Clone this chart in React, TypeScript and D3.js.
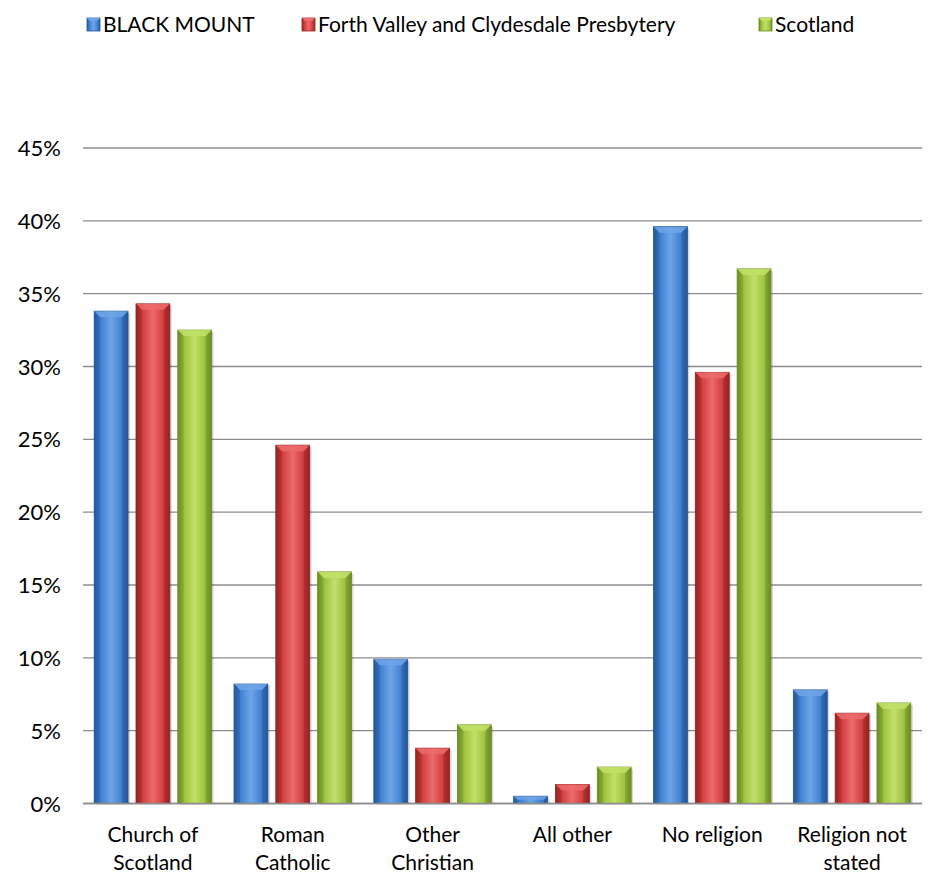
import { useEffect, useRef } from 'react'
import * as d3 from 'd3'

const categories = [
  ['Church of', 'Scotland'],
  ['Roman', 'Catholic'],
  ['Other', 'Christian'],
  ['All other'],
  ['No religion'],
  ['Religion not', 'stated'],
]
const seriesNames = ['BLACK MOUNT', 'Forth Valley and Clydesdale Presbytery', 'Scotland']
const blackMount = [33.8, 8.2, 9.9, 0.5, 39.6, 7.8]
const forthValley = [34.3, 24.6, 3.8, 1.3, 29.6, 6.2]
const scotland = [32.5, 15.9, 5.4, 2.5, 36.7, 6.9]
const yTicks = [0, 5, 10, 15, 20, 25, 30, 35, 40, 45]

const colors = [
  { base: '#3f7fd0', light: '#6ea5e8', dark: '#25569a' },
  { base: '#d13c3c', light: '#ec6b6b', dark: '#952424' },
  { base: '#9bc13e', light: '#c2e067', dark: '#6c8c25' },
]

export default function App() {
  const svgRef = useRef<SVGSVGElement>(null)

  useEffect(() => {
    if (!svgRef.current) return
    const svg = d3.select(svgRef.current)
    svg.selectAll('*').remove()

    const font = 'Lato, "Open Sans", sans-serif'
    const left = 83
    const right = 922
    const top = 148
    const bottom = 803.5

    const defs = svg.append('defs')
    colors.forEach((c, i) => {
      const g = defs.append('linearGradient').attr('id', `grad${i}`).attr('x1', 0).attr('x2', 1)
      g.append('stop').attr('offset', '0%').attr('stop-color', c.dark)
      g.append('stop').attr('offset', '18%').attr('stop-color', c.base)
      g.append('stop').attr('offset', '50%').attr('stop-color', c.light)
      g.append('stop').attr('offset', '82%').attr('stop-color', c.base)
      g.append('stop').attr('offset', '100%').attr('stop-color', c.dark)
    })

    const y = d3.scaleLinear().domain([0, 45]).range([bottom, top])
    const x0 = d3.scaleBand<number>()
      .domain(categories.map((_, i) => i))
      .range([left, right])
      .paddingInner(0.1)
      .paddingOuter(0.05)
    const x1 = d3.scaleBand<number>()
      .domain([0, 1, 2])
      .range([0, x0.bandwidth()])
      .paddingInner(0.19)
      .paddingOuter(0.1)

    // gridlines
    svg.append('g')
      .selectAll('line')
      .data(yTicks)
      .join('line')
      .attr('x1', left)
      .attr('x2', right)
      .attr('y1', d => y(d))
      .attr('y2', d => y(d))
      .attr('stroke', '#8c8c8c')
      .attr('stroke-width', 1.3)

    svg.append('g')
      .selectAll('text')
      .data(yTicks)
      .join('text')
      .attr('x', 61)
      .attr('y', d => y(d) + 8)
      .attr('text-anchor', 'end')
      .attr('font-family', font)
      .attr('font-size', 22)
      .attr('fill', '#000')
      .text(d => `${d}%`)

    const series = [blackMount, forthValley, scotland]
    series.forEach((vals, si) => {
      const c = colors[si]
      const g = svg.append('g')
      vals.forEach((v, ci) => {
        const bx = x0(ci)! + x1(si)!
        const bw = x1.bandwidth()
        const by = y(v)
        const bh = bottom - by
        // shadow
        g.append('rect')
          .attr('x', bx + 2)
          .attr('y', by + 2)
          .attr('width', bw)
          .attr('height', bh - 1)
          .attr('fill', 'rgba(0,0,0,0.15)')
        g.append('rect')
          .attr('x', bx)
          .attr('y', by)
          .attr('width', bw)
          .attr('height', bh)
          .attr('fill', `url(#grad${si})`)
          .attr('stroke', c.dark)
          .attr('stroke-width', 0.8)
        // bevel on top
        const bev = Math.min(6, bh / 2)
        g.append('path')
          .attr('d', `M${bx},${by}L${bx + bw},${by}L${bx + bw - bev},${by + bev}L${bx + bev},${by + bev}Z`)
          .attr('fill', c.light)
          .attr('opacity', 0.85)
        g.append('path')
          .attr('d', `M${bx},${by}L${bx + bev},${by + bev}L${bx + bev},${bottom}L${bx},${bottom}Z`)
          .attr('fill', c.dark)
          .attr('opacity', 0.35)
        g.append('path')
          .attr('d', `M${bx + bw},${by}L${bx + bw - bev},${by + bev}L${bx + bw - bev},${bottom}L${bx + bw},${bottom}Z`)
          .attr('fill', c.dark)
          .attr('opacity', 0.45)
      })
    })

    // x axis line
    svg.append('line')
      .attr('x1', left)
      .attr('x2', right)
      .attr('y1', bottom)
      .attr('y2', bottom)
      .attr('stroke', '#8c8c8c')
      .attr('stroke-width', 1.3)

    const xl = svg.append('g')
    categories.forEach((lines, i) => {
      const cx = x0(i)! + x0.bandwidth() / 2
      const t = xl.append('text')
        .attr('x', cx)
        .attr('y', 842)
        .attr('text-anchor', 'middle')
        .attr('font-family', font)
        .attr('font-size', 21)
        .attr('fill', '#000')
      lines.forEach((l, li) => {
        t.append('tspan').attr('x', cx).attr('dy', li === 0 ? 0 : 28).text(l)
      })
    })

    // legend
    const legendX = [103, 318, 775]
    const lg = svg.append('g')
    seriesNames.forEach((name, i) => {
      const c = colors[i]
      const mx = legendX[i] - 16
      lg.append('rect')
        .attr('x', mx)
        .attr('y', 18)
        .attr('width', 13)
        .attr('height', 13)
        .attr('fill', `url(#grad${i})`)
        .attr('stroke', c.dark)
        .attr('stroke-width', 0.8)
      lg.append('path')
        .attr('d', `M${mx},18L${mx + 13},18L${mx + 10},21L${mx + 3},21Z`)
        .attr('fill', c.light)
      lg.append('text')
        .attr('x', legendX[i])
        .attr('y', 32)
        .attr('font-family', font)
        .attr('font-size', 21)
        .attr('fill', '#000')
        .text(name)
    })
  }, [])

  return (
    <svg
      ref={svgRef}
      width={933}
      height={877}
      style={{ position: 'absolute', left: 0, top: 0, background: '#fff' }}
    />
  )
}
